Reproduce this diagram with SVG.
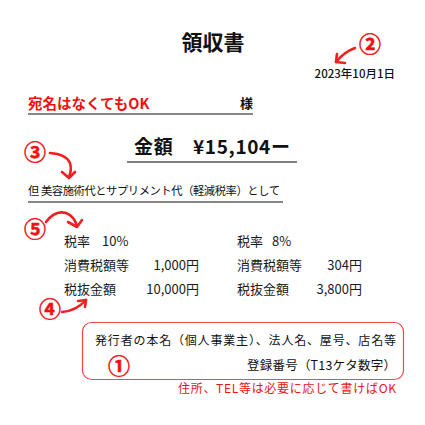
<svg xmlns="http://www.w3.org/2000/svg" width="425" height="425" viewBox="0 0 425 425">
<style>
text{font-family:"Noto Sans CJK JP","Noto Sans",sans-serif;fill:#111}
.red{fill:#f01010}
.num{font-family:"Noto Sans CJK JP",sans-serif;fill:#f01010;font-weight:bold;text-anchor:middle;font-size:22px;stroke:#f01010;stroke-width:0.5}
.b{font-weight:bold}
.t{font-size:13px;font-weight:normal;fill:#1a1a1a}
.arr{fill:none;stroke:#f02020;stroke-width:2.6;stroke-linecap:round;stroke-linejoin:round}
.ul{stroke:#111;stroke-width:1.2}
</style>
<rect width="425" height="425" fill="#fff"/>
<g id="title"><text x="213" y="50" font-size="21" class="b" text-anchor="middle">領収書</text></g>
<g id="date"><text x="395" y="78" font-size="11.5" font-weight="500" text-anchor="end">2023年10月1日</text></g>
<g id="addressee">
<text x="28" y="109" font-size="14.5" class="b red">宛名はなくてもOK</text>
<text x="240" y="108" font-size="13" class="b">様</text>
<line x1="28" y1="114" x2="253" y2="114" class="ul"/>
</g>
<g id="amount">
<text x="134" y="154" font-size="19" class="b" textLength="156">金額　¥15,104ー</text>
<line x1="127" y1="162" x2="297" y2="162" stroke="#555" stroke-width="1.6"/>
</g>
<g id="purpose">
<text x="28" y="195" font-size="11.3" textLength="252">但 美容施術代とサプリメント代（軽減税率）として</text>
<line x1="28" y1="202" x2="283" y2="202" class="ul"/>
</g>
<g id="tax">
<text x="64" y="246" class="t">税率</text><text x="102" y="246" class="t">10%</text>
<text x="64" y="270" class="t">消費税額等</text><text x="199" y="270" class="t" text-anchor="end">1,000円</text>
<text x="64" y="294" class="t">税抜金額</text><text x="199" y="294" class="t" text-anchor="end">10,000円</text>
<text x="237" y="246" class="t">税率</text><text x="272" y="246" class="t">8%</text>
<text x="237" y="270" class="t">消費税額等</text><text x="362" y="270" class="t" text-anchor="end">304円</text>
<text x="237" y="294" class="t">税抜金額</text><text x="362" y="294" class="t" text-anchor="end">3,800円</text>
</g>
<g id="issuer">
<rect x="82.5" y="322.5" width="321" height="57" rx="9" fill="none" stroke="#f34848" stroke-width="1.2"/>
<text x="396" y="345" font-size="12" text-anchor="end" textLength="301">発行者の本名（個人事業主）、法人名、屋号、店名等</text>
<text x="396" y="370" font-size="12.5" text-anchor="end" textLength="149">登録番号（T13ケタ数字）</text>
<text x="396" y="393" font-size="12" class="red" text-anchor="end" textLength="218">住所、TEL等は必要に応じて書けばOK</text>
</g>
<g id="markers">
<text x="370" y="52" class="num">②</text>
<text x="35" y="160" class="num">③</text>
<text x="35" y="237" class="num">⑤</text>
<text x="50" y="317" class="num">④</text>
<text x="119" y="374" class="num">①</text>
</g>
<g id="connectors">
<path class="arr" d="M355,48 Q344,52 336,62"/>
<path class="arr" d="M337,54 L336,62 L345,63"/>
<path class="arr" d="M50,153 Q66,154 70,163 Q72,170 69,177"/>
<path class="arr" d="M62,172 L69,178 L75,172"/>
<path class="arr" d="M46,222 Q55,210 66,213 Q74,216 77,226"/>
<path class="arr" d="M68,222 L77,227 L82,220"/>
<path class="arr" d="M62,312 Q76,311 86,300"/>
<path class="arr" d="M78,301 L86,300 L85,307"/>
</g>
</svg>
